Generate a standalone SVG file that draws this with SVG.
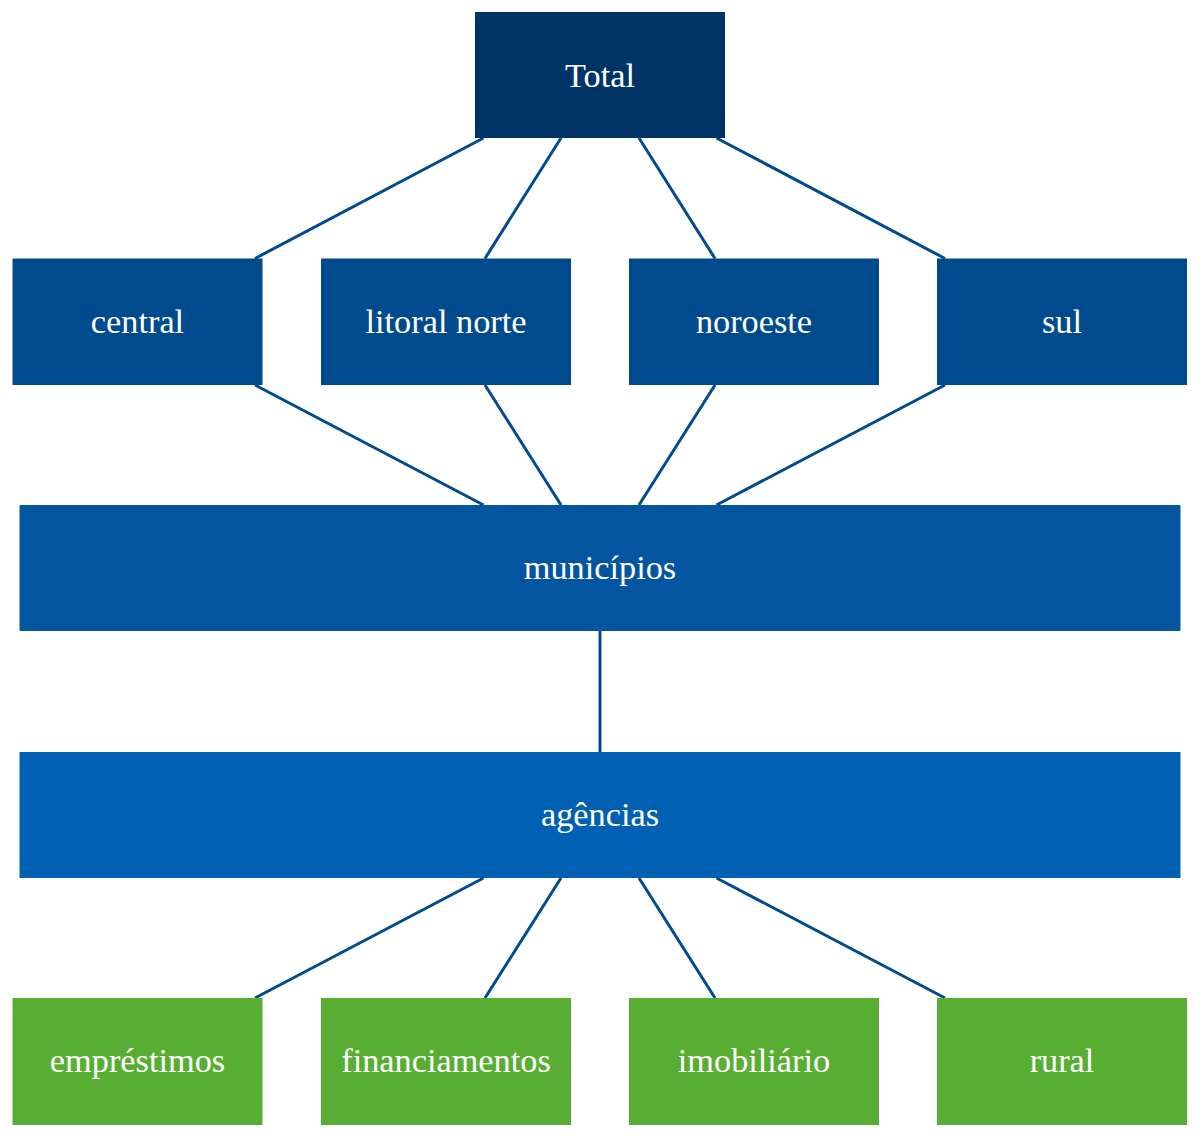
<svg xmlns="http://www.w3.org/2000/svg" width="1200" height="1137" viewBox="0 0 1200 1137">
<style>
text{font-family:"Liberation Serif","Times New Roman",serif;font-size:34.3px;fill:#ffffff;text-anchor:middle}
.e{stroke:#014a8e;stroke-width:3;fill:none}
</style>
<rect width="1200" height="1137" fill="#ffffff"/>
<g id="connectors">
<line class="e" x1="483.5" y1="138" x2="255" y2="258.5"/>
<line class="e" x1="561" y1="138" x2="485" y2="258.5"/>
<line class="e" x1="639" y1="138" x2="715" y2="258.5"/>
<line class="e" x1="716.5" y1="138" x2="945" y2="258.5"/>
<line class="e" x1="255" y1="385" x2="483.5" y2="505"/>
<line class="e" x1="485" y1="385" x2="561" y2="505"/>
<line class="e" x1="715" y1="385" x2="639" y2="505"/>
<line class="e" x1="945" y1="385" x2="716.5" y2="505"/>
<line class="e" x1="600" y1="631" x2="600" y2="752"/>
<line class="e" x1="483.5" y1="878" x2="255" y2="998"/>
<line class="e" x1="561" y1="878" x2="485" y2="998"/>
<line class="e" x1="639" y1="878" x2="715" y2="998"/>
<line class="e" x1="716.5" y1="878" x2="945" y2="998"/>
</g>
<g id="total"><rect x="475" y="12" width="250" height="126" fill="#003366"/><text x="600" y="86.5">Total</text></g>
<g id="central"><rect x="12.5" y="258.5" width="250" height="126.5" fill="#004b8d"/><text x="137.5" y="332.5">central</text></g>
<g id="litoral_norte"><rect x="321" y="258.5" width="250" height="126.5" fill="#004b8d"/><text x="446" y="332.5">litoral norte</text></g>
<g id="noroeste"><rect x="629" y="258.5" width="250" height="126.5" fill="#004b8d"/><text x="754" y="332.5">noroeste</text></g>
<g id="sul"><rect x="937" y="258.5" width="250" height="126.5" fill="#004b8d"/><text x="1062" y="332.5">sul</text></g>
<g id="municipios"><rect x="19.5" y="505" width="1161" height="126" fill="#0455a0"/><text x="600" y="579">municípios</text></g>
<g id="agencias"><rect x="19.5" y="752" width="1161" height="126" fill="#0260b3"/><text x="600" y="826">agências</text></g>
<g id="emprestimos"><rect x="12.5" y="998" width="250" height="127" fill="#57ae32"/><text x="137.5" y="1072">empréstimos</text></g>
<g id="financiamentos"><rect x="321" y="998" width="250" height="127" fill="#57ae32"/><text x="446" y="1072">financiamentos</text></g>
<g id="imobiliario"><rect x="629" y="998" width="250" height="127" fill="#57ae32"/><text x="754" y="1072">imobiliário</text></g>
<g id="rural"><rect x="937" y="998" width="250" height="127" fill="#57ae32"/><text x="1062" y="1072">rural</text></g>
</svg>
